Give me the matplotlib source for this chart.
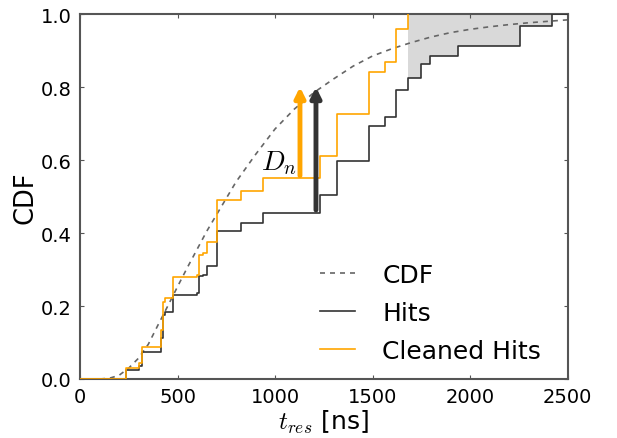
import numpy as np
import matplotlib
matplotlib.use("Agg")
import matplotlib.pyplot as plt

plt.rcParams["mathtext.fontset"] = "cm"

# Theoretical CDF
cdf_t = [0, 100, 150, 200, 250, 300, 350, 400, 450, 500, 550, 600, 650, 700, 750, 800,
         900, 1000, 1100, 1200, 1300, 1400, 1500, 1600, 1700, 1800, 1900, 2000, 2100,
         2200, 2300, 2400, 2500]
cdf_y = [0.0, 0.0, 0.002, 0.01, 0.03, 0.057, 0.095, 0.148, 0.2, 0.253, 0.305, 0.355,
         0.405, 0.45, 0.495, 0.54, 0.615, 0.685, 0.74, 0.785, 0.822, 0.857, 0.885, 0.905,
         0.922, 0.937, 0.949, 0.958, 0.965, 0.971, 0.976, 0.980, 0.984]

# Hits empirical CDF (step positions and levels after each step)
hits_t = [0, 236, 304, 316, 414, 424, 436, 475, 602, 612, 629, 653, 701, 826, 937,
          1231, 1316, 1484, 1564, 1621, 1684, 1749, 1795, 1937, 2256, 2420, 2500]
hits_y = [0.0, 0.025, 0.036, 0.073, 0.111, 0.175, 0.183, 0.231, 0.236, 0.281, 0.285,
          0.310, 0.405, 0.4265, 0.455, 0.504, 0.598, 0.694, 0.717, 0.793, 0.826, 0.863,
          0.884, 0.913, 0.968, 1.0, 1.0]

# Cleaned hits empirical CDF
clean_t = [0, 236, 304, 316, 414, 424, 436, 475, 602, 612, 629, 653, 701, 826, 937,
           1231, 1316, 1484, 1564, 1621, 1684]
clean_y = [0.0, 0.031, 0.044, 0.089, 0.135, 0.212, 0.222, 0.280, 0.286, 0.340, 0.345,
           0.376, 0.491, 0.516, 0.552, 0.612, 0.725, 0.841, 0.868, 0.960, 1.0]

# Dn arrows: (position, start, end)
arrow_clean = (1128, 0.557, 0.80)
arrow_hits = (1210, 0.463, 0.80)
fill_start, fill_end = 1684, 2420

orange = "#ffa500"
dark = "#333333"

fig = plt.figure(figsize=(6.17, 4.39), dpi=100)
ax = fig.add_axes([0.1297, 0.1344, 0.7901, 0.8314])

# shaded region between hits curve and 1
ht = np.array(hits_t); hy = np.array(hits_y)
mask = (ht >= fill_start) & (ht <= fill_end)
ax.fill_between(ht[mask], hy[mask], 1.0, step="post", color="#d9d9d9", lw=0, zorder=1)

ax.plot(cdf_t, cdf_y, ls=(0, (3, 3)), color="#666666", lw=1.2, label="CDF", zorder=2)
ax.plot(hits_t, hits_y, drawstyle="steps-post", color=dark, lw=1.2, label="Hits", zorder=3)
ax.plot(clean_t, clean_y, drawstyle="steps-post", color=orange, lw=1.2,
        label="Cleaned Hits", zorder=4)

for (xa, y0, y1), c in [(arrow_clean, orange), (arrow_hits, dark)]:
    ax.annotate("", xy=(xa, y1), xytext=(xa, y0),
                arrowprops=dict(arrowstyle="-|>,head_length=0.6,head_width=0.3",
                                color=c, lw=3.5, shrinkA=0, shrinkB=0), zorder=5)

ax.text(1022, 0.595, r"$D_n$", fontsize=20, ha="center", va="center")

ax.set_xlim(0, 2500)
ax.set_ylim(0, 1.0)
ax.set_xticks([0, 500, 1000, 1500, 2000, 2500])
ax.set_yticks([0.0, 0.2, 0.4, 0.6, 0.8, 1.0])
ax.tick_params(direction="in", top=True, right=True, labelsize=14, length=3,
               color="#555555", pad=6)
for s in ax.spines.values():
    s.set_color("#555555")
    s.set_linewidth(1.5)

ax.set_xlabel(r"$t_{res}$ [ns]", fontsize=18, labelpad=1)
ax.set_ylabel("CDF", fontsize=18.5, labelpad=2)

ax.legend(loc="lower left", bbox_to_anchor=(0.492, 0.045), frameon=False, fontsize=18,
          handlelength=1.4, handletextpad=1.1, labelspacing=0.55,
          borderpad=0, borderaxespad=0)

fig.savefig("out.png", dpi=100)
